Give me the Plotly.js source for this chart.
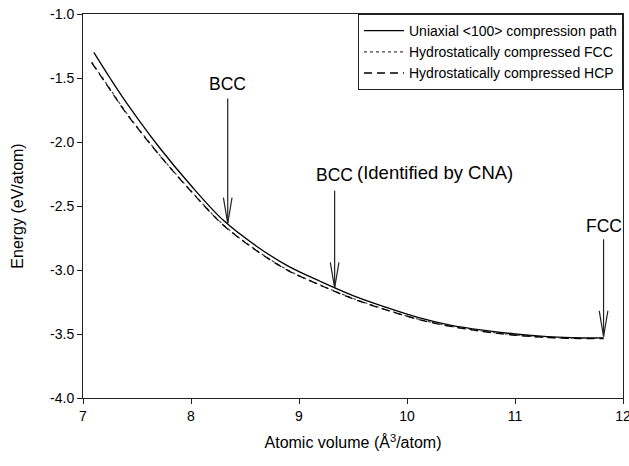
<!DOCTYPE html>
<html>
<head>
<meta charset="utf-8">
<script src="https://cdn.plot.ly/plotly-3.0.1.min.js"></script>
<style>html,body{margin:0;padding:0;background:#fff;}#chart{width:629px;height:466px;}</style>
</head>
<body>
<div id="chart"></div>
<script>
// Uniaxial <100> compression path
const volUni = [7.10, 7.25, 7.40, 7.70, 8.00, 8.30, 8.60, 8.90, 9.20, 9.50, 9.80, 10.10, 10.40, 10.70, 11.00, 11.30, 11.60, 11.82];
const eUni   = [-1.30, -1.50, -1.69, -2.035, -2.34, -2.612, -2.81, -2.97, -3.09, -3.20, -3.29, -3.37, -3.43, -3.47, -3.50, -3.52, -3.53, -3.53];
// Hydrostatically compressed FCC
const volFcc = [7.08, 7.25, 7.40, 7.70, 8.00, 8.30, 8.60, 8.90, 9.20, 9.50, 9.80, 10.10, 10.40, 10.70, 11.00, 11.30, 11.60, 11.82];
const eFcc   = [-1.375, -1.585, -1.77, -2.092, -2.382, -2.647, -2.842, -3.002, -3.118, -3.222, -3.308, -3.383, -3.438, -3.478, -3.508, -3.526, -3.534, -3.535];
// Hydrostatically compressed HCP
const volHcp = [7.08, 7.25, 7.40, 7.70, 8.00, 8.30, 8.60, 8.90, 9.20, 9.50, 9.80, 10.10, 10.40, 10.70, 11.00, 11.30, 11.60, 11.82];
const eHcp   = [-1.38, -1.59, -1.775, -2.095, -2.385, -2.65, -2.845, -3.005, -3.12, -3.225, -3.31, -3.385, -3.44, -3.48, -3.51, -3.527, -3.535, -3.535];

const seriesNames = ["Uniaxial <100> compression path", "Hydrostatically compressed FCC", "Hydrostatically compressed HCP"];

// Arrow annotations: label, tip volume, tip energy, tail energy, label energy
const arrowLabels = ["BCC", "BCC", "FCC"];
const arrowTipX   = [8.34, 9.33, 11.82];
const arrowTipY   = [-2.635, -3.14, -3.52];
const arrowTail   = [-1.66, -2.38, -2.76];
const labelY      = [-1.545, -2.255, -2.655];
const noteText    = "(Identified by CNA)";
const noteX       = 9.52;
const noteY       = -2.24;

const xTicks = [7, 8, 9, 10, 11, 12];
const yTicks = [-1.0, -1.5, -2.0, -2.5, -3.0, -3.5, -4.0];

const traces = [
  {x: volUni, y: eUni, name: seriesNames[0], mode: 'lines', line: {color: '#000', width: 1.3, shape: 'spline'}},
  {x: volFcc, y: eFcc, name: seriesNames[1], mode: 'lines', line: {color: '#444', width: 1.2, dash: 'dot', shape: 'spline'}},
  {x: volHcp, y: eHcp, name: seriesNames[2], mode: 'lines', line: {color: '#000', width: 1.3, dash: '8px,5px', shape: 'spline'}}
];

const FONT = 'Liberation Sans, Arial, sans-serif';
const shapes = [];
const annotations = [];
const hx = 0.04, hy = 0.2;
for (let i = 0; i < arrowLabels.length; i++) {
  shapes.push({type: 'line', xref: 'x', yref: 'y', x0: arrowTipX[i], x1: arrowTipX[i], y0: arrowTail[i], y1: arrowTipY[i], line: {color: '#222', width: 1.2}});
  shapes.push({type: 'path', xref: 'x', yref: 'y',
    path: 'M' + (arrowTipX[i] - hx) + ',' + (arrowTipY[i] + hy) + ' L' + arrowTipX[i] + ',' + arrowTipY[i] + ' L' + (arrowTipX[i] + hx) + ',' + (arrowTipY[i] + hy),
    line: {color: '#222', width: 1.2}});
  annotations.push({x: arrowTipX[i], y: labelY[i], xref: 'x', yref: 'y', text: arrowLabels[i], showarrow: false,
    font: {family: FONT, size: 17.5, color: '#000'}, xanchor: 'center', yanchor: 'middle'});
}
annotations.push({x: noteX, y: noteY, xref: 'x', yref: 'y', text: noteText, showarrow: false,
  font: {family: FONT, size: 18.5, color: '#000'}, xanchor: 'left', yanchor: 'middle'});

const layout = {
  width: 629, height: 466,
  margin: {l: 83, r: 6, t: 14, b: 68},
  paper_bgcolor: '#fff', plot_bgcolor: '#fff',
  font: {family: FONT, size: 14, color: '#000'},
  showlegend: true,
  legend: {x: 1, xanchor: 'right', y: 1, yanchor: 'top', bordercolor: '#222', borderwidth: 1, bgcolor: '#fff',
    font: {size: 14}, tracegroupgap: 0, itemwidth: 40},
  xaxis: {range: [7, 12], tickvals: xTicks, ticktext: xTicks.map(String), ticks: 'outside', ticklen: 5, tickcolor: '#222',
    showline: true, linecolor: '#222', linewidth: 1, mirror: true, showgrid: false, zeroline: false, ticklabeloverflow: 'allow',
    title: {text: 'Atomic volume (Å<sup>3</sup>/atom)', font: {size: 16}, standoff: 14}, tickfont: {size: 14}},
  yaxis: {range: [-4, -1], tickvals: yTicks, ticktext: yTicks.map(v => v.toFixed(1)), ticks: 'outside', ticklen: 5, tickcolor: '#222',
    showline: true, linecolor: '#222', linewidth: 1, mirror: true, showgrid: false, zeroline: false,
    title: {text: 'Energy (eV/atom)', font: {size: 16}, standoff: 22}, tickfont: {size: 14}},
  shapes: shapes,
  annotations: annotations
};

Plotly.newPlot('chart', traces, layout, {displayModeBar: false, staticPlot: true});
</script>
</body>
</html>
